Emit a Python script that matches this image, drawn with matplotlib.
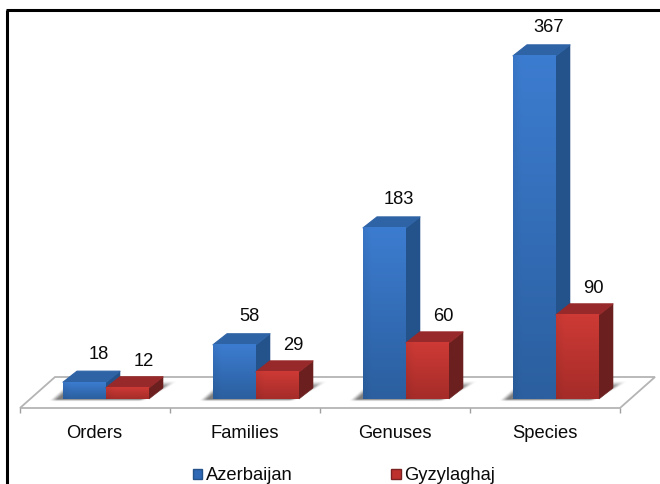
import numpy as np
import matplotlib
matplotlib.use("Agg")
import matplotlib.pyplot as plt
from matplotlib.patches import Polygon, Patch
from matplotlib.colors import to_rgb

plt.rcParams['font.family'] = ['Liberation Sans', 'DejaVu Sans']

categories = ["Orders", "Families", "Genuses", "Species"]
azerbaijan = [18, 58, 183, 367]
gyzylaghaj = [12, 29, 60, 90]
series_names = ["Azerbaijan", "Gyzylaghaj"]

W, H = 660, 484
PX_PER_UNIT = 0.935   # vertical pixels per count
PX_PER_CAT = 150.0    # horizontal pixels per category
X0_PX, Y0_PX = 106.0, 399.0

BAR_W = 43 / PX_PER_CAT
DEPTH_X = 14 / PX_PER_CAT
DEPTH_Y = 11 / PX_PER_UNIT
FONT = 13.2
INK = "#0a0a0a"


def dx(px):
    return px / PX_PER_CAT


def dy(px):
    return px / PX_PER_UNIT


fig = plt.figure(figsize=(W / 100, H / 100), dpi=100, facecolor="white")
ax = fig.add_axes([0, 0, 1, 1])
ax.axis("off")
xlim = (-X0_PX / PX_PER_CAT, (W - X0_PX) / PX_PER_CAT)
ylim = (-(H - Y0_PX) / PX_PER_UNIT, Y0_PX / PX_PER_UNIT)

# slanted floor and category ticks
left = -0.5 + dx(-11)
right = 3.5 + dx(-11)
floor_y = dy(-9)
back_y = dy(22)
ax.add_patch(Polygon([(left, floor_y), (right, floor_y),
                      (right + dx(35), back_y), (left + dx(35), back_y)],
                     closed=True, fc="white", ec="#b4b4b4", lw=1.3, zorder=1))
for i in range(len(categories) + 1):
    ax.plot([left + i, left + i], [floor_y, floor_y - dy(5)],
            color="#a0a0a0", lw=1.0, zorder=1, solid_capstyle="butt")


def smooth(v):
    v = np.clip(v, 0, 1)
    return v * v * (3 - 2 * v)


def draw_shadow(x0, x1):
    """Soft contact shadow on the floor, one translucent image per category."""
    xs = np.arange(-20, 120, 1.0)            # pixels from the group's left edge
    hs = np.arange(-4, 22, 1.0)              # pixels above the baseline
    X, Y = np.meshgrid(xs, hs)
    width = (x1 - x0) * PX_PER_CAT
    left_edge = -13 + 1.1 * Y
    right_edge = width + 1.7 * Y
    alpha = (smooth((X - left_edge) / 9) * smooth((right_edge - X) / 8)
             * smooth((Y + 3) / 3) * smooth((19 - Y) / 8) * 0.72)
    img = np.zeros(alpha.shape + (4,))
    img[..., :3] = to_rgb("#4a4a4a")
    img[..., 3] = alpha
    ax.imshow(img, origin="lower", aspect="auto", interpolation="bilinear", zorder=2,
              extent=(x0 + dx(xs[0]), x0 + dx(xs[-1]), dy(hs[0]), dy(hs[-1])))


def draw_bar(x0, val, front_top, front_bot, top_c, side_c, z):
    x1 = x0 + BAR_W
    # side and top faces
    ax.add_patch(Polygon([(x1, 0), (x1 + DEPTH_X, DEPTH_Y),
                          (x1 + DEPTH_X, val + DEPTH_Y), (x1, val)],
                         closed=True, fc=side_c, ec=side_c, lw=0.4, zorder=z))
    ax.add_patch(Polygon([(x0, val), (x1, val),
                          (x1 + DEPTH_X, val + DEPTH_Y), (x0 + DEPTH_X, val + DEPTH_Y)],
                         closed=True, fc=top_c, ec=top_c, lw=0.8, joinstyle="round",
                         zorder=z))
    # front face with a vertical gradient, slightly darker at its left edge
    t = np.linspace(0, 1, 64)[:, None]
    s = np.linspace(0, 1, 32)[None, :]
    a, b = np.array(to_rgb(front_top)), np.array(to_rgb(front_bot))
    img = a[None, None, :] * (1 - t[..., None]) + b[None, None, :] * t[..., None]
    img = img * (0.95 + 0.05 * np.minimum(s * 5, 1))[..., None]
    ax.imshow(img, extent=(x0, x1, 0, val), origin="upper", aspect="auto",
              interpolation="bilinear", zorder=z + 0.1)


for i, (a_val, g_val) in enumerate(zip(azerbaijan, gyzylaghaj)):
    x_blue = i - BAR_W
    x_red = float(i)
    draw_shadow(x_blue, x_red + BAR_W)
    z = 3 + i
    draw_bar(x_blue, a_val, "#3C7CD0", "#2B5F9F", "#2E63A6", "#24528A", z)
    draw_bar(x_red, g_val, "#CE3A35", "#A52C29", "#97292A", "#6B1F1E", z + 0.3)

    ax.text(x_blue + dx(36), a_val + dy(28), str(a_val), ha="center", va="center",
            fontsize=FONT, color=INK, zorder=10)
    ax.text(x_red + dx(37.5), g_val + dy(26.5), str(g_val), ha="center", va="center",
            fontsize=FONT, color=INK, zorder=10)
    ax.text(i + dx(-11.5), dy(-34.5), categories[i], ha="center", va="center",
            fontsize=FONT, color=INK, zorder=10)

# outer frame: only the top and left rules
ax.plot([dx(7 - X0_PX), dx(7 - X0_PX)], [dy(Y0_PX - 10), dy(Y0_PX - H)],
        color="black", lw=2.2, zorder=11, solid_capstyle="butt")
ax.plot([dx(6 - X0_PX), dx(W - X0_PX)], [dy(Y0_PX - 10), dy(Y0_PX - 10)],
        color="black", lw=2.2, zorder=11, solid_capstyle="butt")

ax.set_xlim(*xlim)
ax.set_ylim(*ylim)

handles = [Patch(fc="#2F68B4", ec="#24528A", label=series_names[0]),
           Patch(fc="#BE322E", ec="#7A2220", label=series_names[1])]
fig.legend(handles=handles, loc="center", bbox_to_anchor=(344 / W, 1 - 476 / H),
           ncol=2, frameon=False, fontsize=FONT, handlelength=0.5, handleheight=0.5,
           handletextpad=0.2, columnspacing=5.4, borderpad=0, labelcolor=INK)

fig.savefig("out.png", dpi=100, facecolor="white")
